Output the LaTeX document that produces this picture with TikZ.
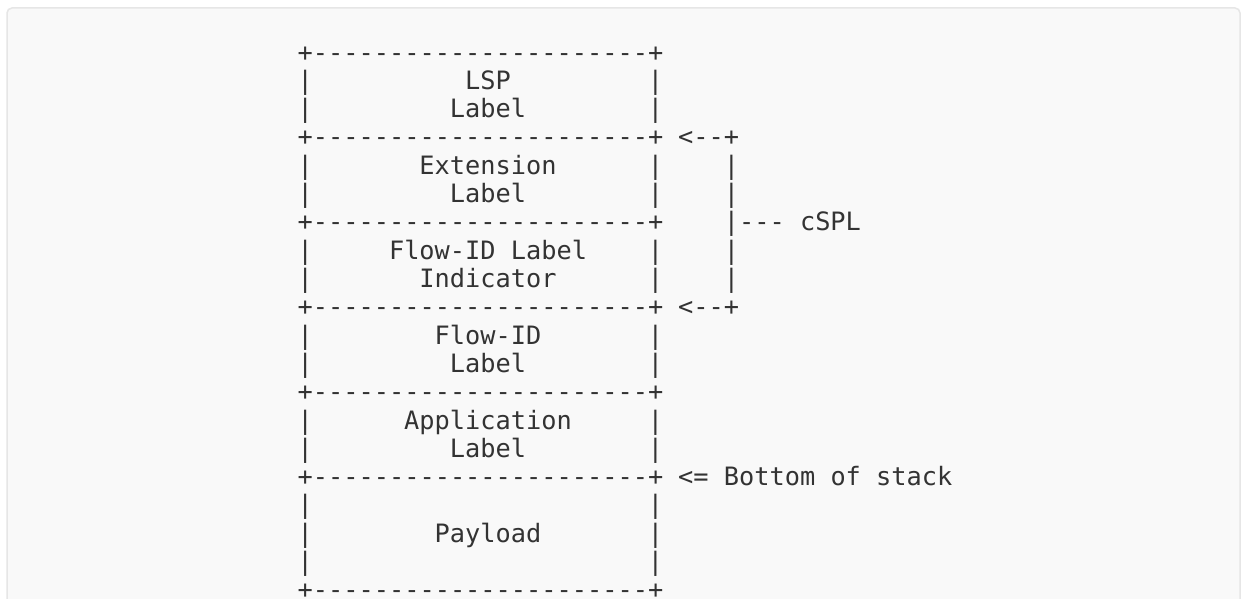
\documentclass[tikz,border=0pt]{standalone}
\usepackage{fontspec}
\setmonofont{DejaVu Sans Mono}
\definecolor{txt}{HTML}{333333}
\definecolor{bg}{HTML}{F9F9F9}
\definecolor{bd}{HTML}{E6E6E6}
\newcommand\asc[4]{\node[t] (#1) at ({297.7+#2*15.22},{61.1+#3*28.3}) {#4};}
\begin{document}
\begin{tikzpicture}[x=1pt,y=-1pt,
  t/.style={anchor=base west, inner sep=0pt, outer sep=0pt, text=txt,
            font=\ttfamily\fontsize{25.3}{28}\selectfont}]
\useasboundingbox (0,0) rectangle (1241,599);
\fill[white] (0,0) rectangle (1241,599);
\draw[bd, fill=bg, line width=1.5pt, rounded corners=5pt] (7,8) rectangle (1240,640);
% horizontal borders
\foreach \r in {0,3,6,9,12,15,19} {\asc{h\r}{0}{\r}{+----------------------+}}
% vertical borders
\foreach \r in {1,2,4,5,7,8,10,11,13,14,16,17,18} {\asc{l\r}{0}{\r}{|}\asc{r\r}{23}{\r}{|}}
% labels
\asc{lsp}{11}{1}{LSP}
\asc{lsplab}{10}{2}{Label}
\asc{ext}{8}{4}{Extension}
\asc{extlab}{10}{5}{Label}
\asc{fli}{6}{7}{Flow-ID Label}
\asc{flilab}{8}{8}{Indicator}
\asc{fid}{9}{10}{Flow-ID}
\asc{fidlab}{10}{11}{Label}
\asc{app}{7}{13}{Application}
\asc{applab}{10}{14}{Label}
\asc{pay}{9}{17}{Payload}
% right-hand bracket
\asc{a1}{25}{3}{<--+}
\asc{b4}{28}{4}{|}
\asc{b5}{28}{5}{|}
\asc{cspl}{28}{6}{|--- cSPL}
\asc{b7}{28}{7}{|}
\asc{b8}{28}{8}{|}
\asc{a2}{25}{9}{<--+}
\asc{bos}{25}{15}{<= Bottom of stack}
\end{tikzpicture}
\end{document}
